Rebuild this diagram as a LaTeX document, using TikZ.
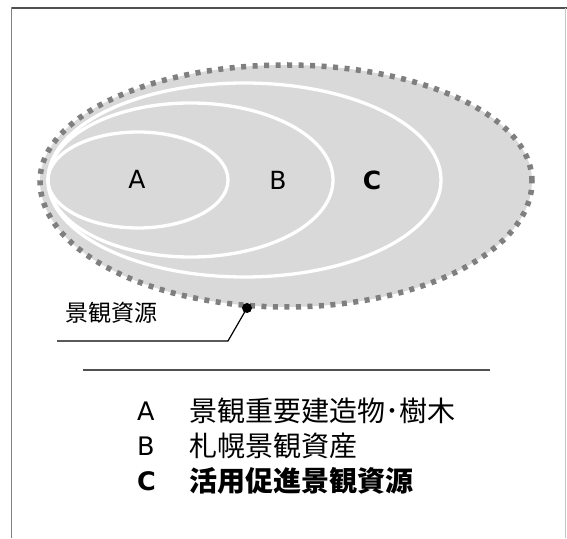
\documentclass[tikz,border=0pt]{standalone}
\usepackage{fontspec}
\setmainfont{Noto Sans CJK JP}
\newfontfamily\latinsans{DejaVu Sans}
\definecolor{fillgray}{HTML}{D9D9D9}
\definecolor{dotgray}{HTML}{7F7F7F}
\definecolor{framedark}{HTML}{505050}
\definecolor{frameleft}{HTML}{808080}
\definecolor{frameright}{HTML}{C8C8C8}
\begin{document}
\begin{tikzpicture}[x=1pt,y=1pt,
  outerline/.style={draw=dotgray, line width=5.5pt, dash pattern=on 5pt off 6.5pt, fill=fillgray},
  ring/.style={draw=white, line width=3.3pt},
  lbl/.style={inner sep=0pt, font=\latinsans\fontsize{25}{30}\selectfont},
  legl/.style={inner sep=0pt, anchor=west, font=\latinsans\fontsize{25.5}{30}\selectfont},
  leg/.style={inner sep=0pt, anchor=west, font=\fontsize{28}{30}\selectfont},
  lead/.style={draw=black, line width=1.2pt}]
\useasboundingbox (0,0) rectangle (567,538);
% frame
\draw[framedark, line width=1.5pt] (11,530) -- (567,530);
\draw[frameleft, line width=1.5pt] (11.5,530.7) -- (11.5,0);
\draw[frameright, line width=1pt] (565.5,530) -- (565.5,0);
% outer resource area
\path[outerline] (532,357) arc[start angle=0, end angle=180, x radius=246, y radius=116]
  arc[start angle=180, end angle=360, x radius=246, y radius=126] -- cycle;
% nested sets
\draw[ring] (244.5,358) ellipse[x radius=196.5, y radius=97];
\draw[ring] (190.5,358) ellipse[x radius=142.5, y radius=77];
\draw[ring] (138,358) ellipse[x radius=90, y radius=48];
\node[lbl] (la) at (137,359) {A};
\node[lbl] (lb) at (278,358) {B};
\node[lbl, font=\latinsans\fontsize{25}{30}\selectfont\bfseries] (lc) at (372,358) {C};
% leader
\node[inner sep=0pt, font=\fontsize{23}{26}\selectfont] (res) at (111,225) {景観資源};
\coordinate (l1) at (57,197);
\coordinate (l2) at (228,197);
\node[circle, fill=black, inner sep=0pt, minimum size=10pt] (dot) at (247,230) {};
\draw[lead] (l1) -- (l2) -- (dot.center);
% separator
\coordinate (s1) at (83,168);
\coordinate (s2) at (490,168);
\draw[framedark, line width=1.2pt] (s1) -- (s2);
% legend
\node[legl] (ka) at (137,127) {A};
\node[leg] (ta) at (189,127) {景観重要建造物･樹木};
\node[legl] (kb) at (137,92) {B};
\node[leg] (tb) at (189,92) {札幌景観資産};
\node[legl, font=\latinsans\fontsize{25.5}{30}\selectfont\bfseries] (kc) at (137,57) {C};
\node[leg, font=\fontsize{28}{30}\selectfont\bfseries] (tc) at (189,57) {活用促進景観資源};
\end{tikzpicture}
\end{document}
